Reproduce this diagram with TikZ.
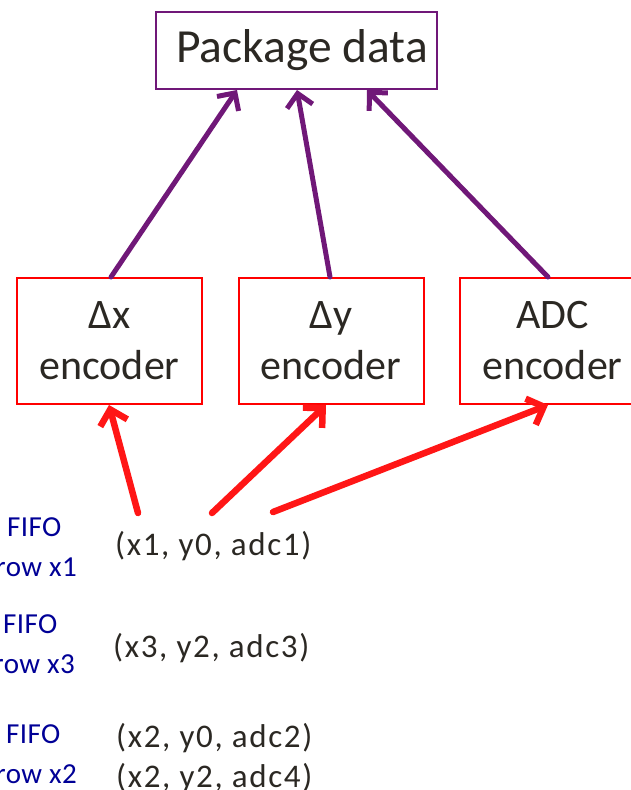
\documentclass[tikz,border=0pt]{standalone}
\usepackage{fontspec}
\setmainfont{Carlito}
\newfontfamily\widefont[LetterSpace=5]{Carlito}
\newfontfamily\labelfont[LetterSpace=1.5]{Carlito}
\usetikzlibrary{arrows.meta}
\definecolor{plum}{RGB}{112,24,120}
\definecolor{redline}{RGB}{255,22,22}
\definecolor{boxred}{RGB}{255,0,0}
\definecolor{ink}{RGB}{43,40,35}
\definecolor{fifoblue}{RGB}{0,0,150}
\tikzset{
  pkgbox/.style={draw=plum, line width=2pt, minimum width=281pt, minimum height=77pt,
    inner sep=0pt, text=ink, font=\fontsize{47.5}{52}\selectfont},
  encbox/.style={draw=boxred, line width=2pt, minimum width=185pt, minimum height=126pt,
    inner sep=0pt, align=center, text=ink, font=\fontsize{42}{51}\selectfont},
  uparrow/.style={draw=plum, line width=5pt, line cap=round,
    -{Straight Barb[length=13pt,width=26pt,line width=5pt]}},
  feedarrow/.style={draw=redline, line width=6.5pt, line cap=round,
    -{Straight Barb[length=14pt,width=28pt,line width=6.5pt]}},
  tuple/.style={anchor=base west, inner sep=0pt, text=ink, font=\widefont\fontsize{33}{36}\selectfont},
  fifolabel/.style={inner sep=0pt, text=fifoblue, font=\labelfont\fontsize{29}{34}\selectfont},
}
\begin{document}
\begin{tikzpicture}[x=1pt, y=-1pt]
\useasboundingbox (0,0) rectangle (631,790);

% output stage
\node[pkgbox] (pkg) at (296.5,50.5) {\hspace*{11pt}Package data};

% the three encoders
\node[encbox] (dx)  at (109.5,341) {Δx\\encoder};
\node[encbox] (dy)  at (331,341)   {Δy\\encoder};
\node[encbox] (adc) at (552.5,341) {ADC\\encoder};

% encoders feed the package
\draw[uparrow] ([xshift=1.5pt]dx.north)  -- ([xshift=-59.5pt]pkg.south);
\draw[uparrow] ([xshift=-1pt]dy.north)   -- ([xshift=0.5pt]pkg.south);
\draw[uparrow] ([xshift=-4.5pt]adc.north) -- ([xshift=70.5pt]pkg.south);

% FIFO contents
\node[tuple] (t1) at (115,555) {(x1, y0, adc1)};
\node[tuple] (t3) at (113,657) {(x3, y2, adc3)};
\node[tuple] (t2) at (116,747) {(x2, y0, adc2)};
\node[tuple] (t4) at (116,787) {(x2, y2, adc4)};

% FIFO labels
\node[fifolabel, anchor=base west] (f1)  at (7,536)  {FIFO};
\node[fifolabel, anchor=base east] (r1)  at (77,576) {row x1};
\node[fifolabel, anchor=base west] (f3)  at (3,633)  {FIFO};
\node[fifolabel, anchor=base east] (r3)  at (75,673) {row x3};
\node[fifolabel, anchor=base west] (f2)  at (6,743)  {FIFO};
\node[fifolabel, anchor=base east] (r2)  at (77,783) {row x2};

% fields of the first word go to their encoders
\coordinate (sx) at (138,513);
\coordinate (sy) at (212,513);
\coordinate (sa) at (273,512);
\draw[feedarrow] (sx) -- ([xshift=-0.5pt]dx.south);
\draw[feedarrow] (sy) -- ([xshift=-5pt]dy.south);
\draw[feedarrow] (sa) -- ([xshift=-4.5pt]adc.south);
\end{tikzpicture}
\end{document}
